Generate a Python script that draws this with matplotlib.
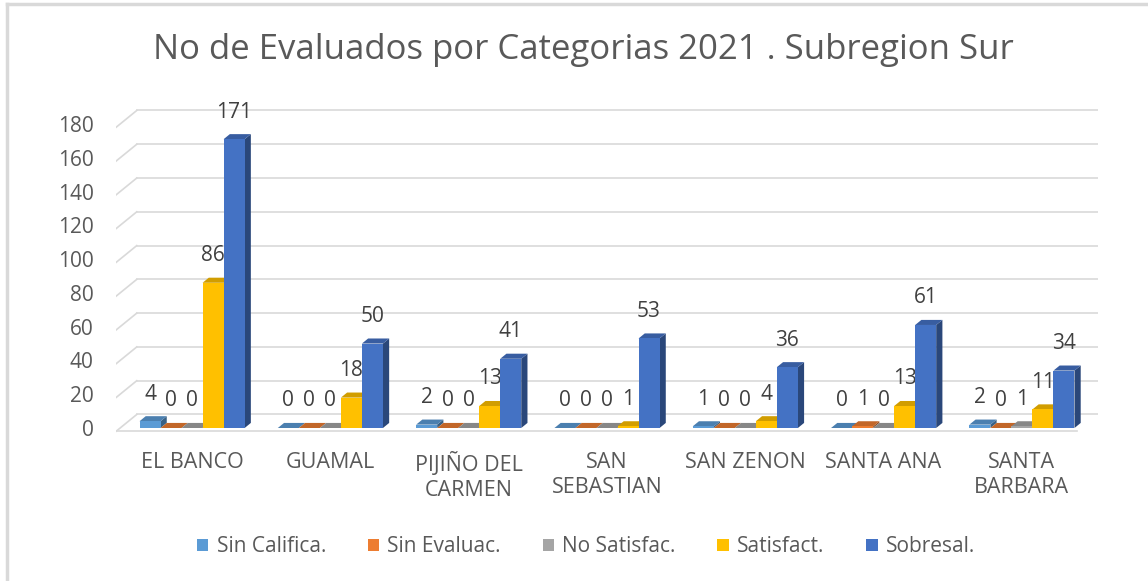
import matplotlib
matplotlib.use("Agg")
import matplotlib.pyplot as plt
from matplotlib.patches import Polygon, Rectangle
from matplotlib.lines import Line2D
import matplotlib.colors as mcolors
import numpy as np

plt.rcParams['font.family'] = ['Open Sans', 'DejaVu Sans']

categories = ["EL BANCO", "GUAMAL", "PIJIÑO DEL\nCARMEN", "SAN\nSEBASTIAN",
              "SAN ZENON", "SANTA ANA", "SANTA\nBARBARA"]
series_names = ["Sin Califica.", "Sin Evaluac.", "No Satisfac.", "Satisfact.", "Sobresal."]
sin_califica = [4, 0, 2, 0, 1, 0, 2]
sin_evaluac = [0, 0, 0, 0, 0, 1, 0]
no_satisfac = [0, 0, 0, 0, 0, 0, 1]
satisfact = [86, 18, 13, 1, 4, 13, 11]
sobresal = [171, 50, 41, 53, 36, 61, 34]
yticks = [0, 20, 40, 60, 80, 100, 120, 140, 160, 180]
title = "No de Evaluados por Categorias 2021 . Subregion Sur"

series = [sin_califica, sin_evaluac, no_satisfac, satisfact, sobresal]
colors = ["#5B9BD5", "#ED7D31", "#A5A5A5", "#FFC000", "#4472C4"]

W, H = 1148, 581
fig = plt.figure(figsize=(W / 100, H / 100), dpi=100)

# axes placement (pixels)
ax_left, ax_right = 116, 1098
y0_px, y180_px = 428, 124
ppu = (y0_px - y180_px) / 180.0
ylo, yhi = -6, 196
ax_bottom_px = y0_px - ylo * ppu
ax_top_px = y180_px - (yhi - 180) * ppu
ax = fig.add_axes([ax_left / W, 1 - ax_bottom_px / H,
                   (ax_right - ax_left) / W, (ax_bottom_px - ax_top_px) / H])
xlo, xhi = -0.55, 6.55
ax.set_xlim(xlo, xhi)
ax.set_ylim(ylo, yhi)
for s in ax.spines.values():
    s.set_visible(False)

grid_c = "#D9D9D9"
# back-wall gridlines and diagonal connectors
dxb, dyb = 0.15, 8.0
for t in yticks:
    ax.add_line(Line2D([xlo + dxb, xhi], [t + dyb, t + dyb], color=grid_c, lw=1.2, zorder=0))
    ax.add_line(Line2D([xlo, xlo + dxb], [t - 2, t + dyb], color=grid_c, lw=1.2, zorder=0))
ax.add_line(Line2D([xlo, xhi - dxb], [-2, -2], color=grid_c, lw=1.2, zorder=0))

# bars with pseudo-3D faces
bw = 0.152
dx, dy = 0.045, 3.0
x = np.arange(len(categories))
z = 2
for ci in range(len(categories)):
    for si, (vals, col) in enumerate(zip(series, colors)):
        v = vals[ci]
        xl = ci + (si - 2) * bw - bw / 2
        xr = xl + bw
        rgb = np.array(mcolors.to_rgb(col))
        side = tuple(rgb * 0.62)
        top = tuple(rgb * 0.82)
        ax.add_patch(Polygon([(xr, 0), (xr + dx, dy), (xr + dx, v + dy), (xr, v)],
                             closed=True, facecolor=side, edgecolor='none', zorder=z))
        ax.add_patch(Polygon([(xl, v), (xl + dx, v + dy), (xr + dx, v + dy), (xr, v)],
                             closed=True, facecolor=top, edgecolor='none', zorder=z))
        ax.bar(xl + bw / 2, v, width=bw, color=col, zorder=z + 0.5, linewidth=0)
        ax.annotate(str(v), (xl + bw / 2, v), xytext=(0, 19.5), textcoords='offset points',
                    ha='center', va='center', fontsize=15, color='#404040', zorder=10)
        z += 1

ax.set_yticks(yticks)
ax.set_yticklabels([str(t) for t in yticks], fontsize=15, color='#595959')
ax.set_xticks(x)
ax.set_xticklabels(categories, fontsize=15.5, color='#595959', linespacing=1.25)
ax.tick_params(axis='y', length=0, pad=16)
ax.tick_params(axis='x', length=0, pad=10)
for lab in ax.get_xticklabels():
    lab.set_verticalalignment('top')

fig.text(583 / W, 1 - 50 / H, title, ha='center', va='center', fontsize=25, color='#595959')

handles = [Rectangle((0, 0), 1, 1, facecolor=c, edgecolor='none') for c in colors]
fig.legend(handles, series_names, loc='center', bbox_to_anchor=(586 / W, 1 - 547 / H),
           ncol=5, frameon=False, fontsize=15, labelcolor='#595959',
           handlelength=0.55, handleheight=0.55, handletextpad=0.4, columnspacing=2.0)

# screenshot frame
fig.add_artist(Line2D([7 / W, 7 / W], [0, 1 - 4 / H], color='#D9D9D9', lw=2.5))
fig.add_artist(Line2D([7 / W, 1], [1 - 4 / H, 1 - 4 / H], color='#D9D9D9', lw=2.5))

fig.savefig("out.png", dpi=100)
